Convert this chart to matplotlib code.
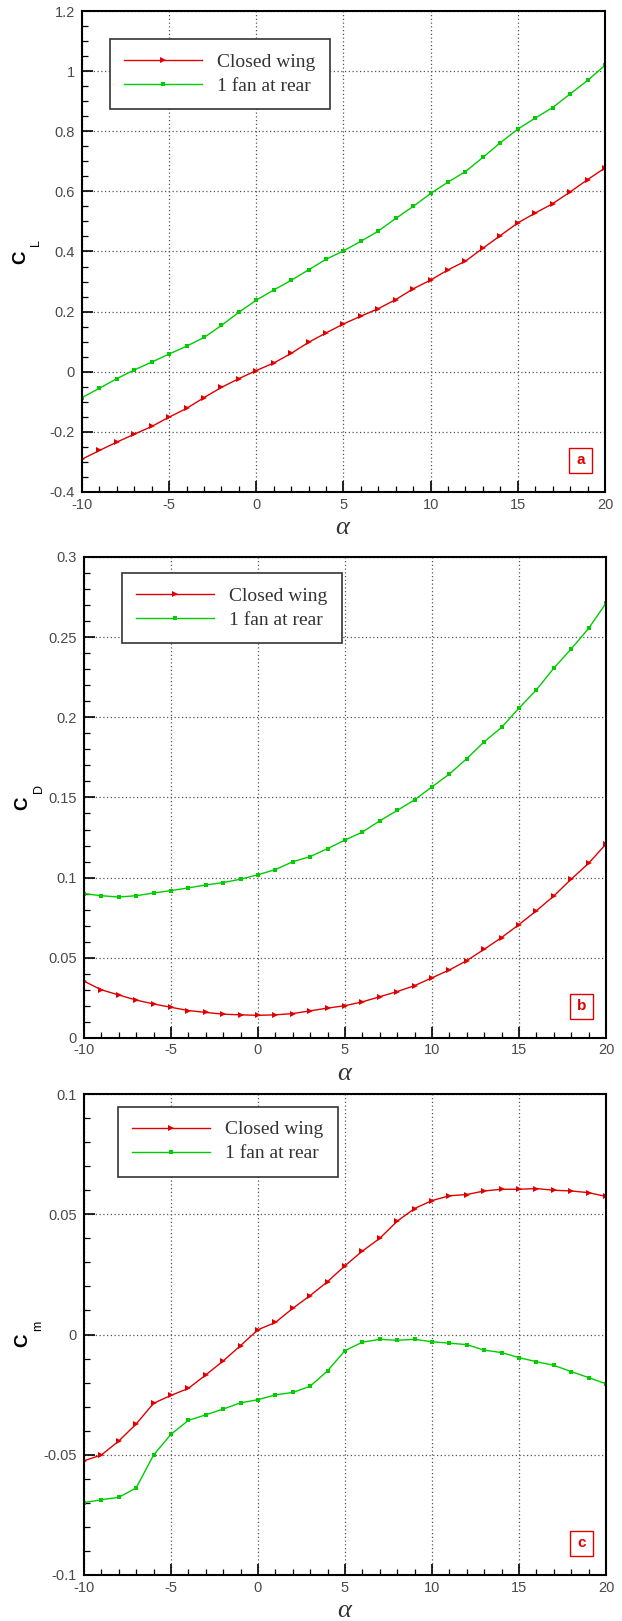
import matplotlib
matplotlib.use("Agg")
import matplotlib.pyplot as plt
from matplotlib.ticker import MultipleLocator, FuncFormatter
from matplotlib.patches import Rectangle

alpha = [-10, -9, -8, -7, -6, -5, -4, -3, -2, -1, 0, 1, 2, 3, 4, 5, 6, 7, 8, 9,
         10, 11, 12, 13, 14, 15, 16, 17, 18, 19, 20]

cl_closed = [-0.291, -0.262, -0.234, -0.208, -0.182, -0.151, -0.122, -0.086, -0.052, -0.023,
             0.004, 0.029, 0.061, 0.098, 0.129, 0.159, 0.185, 0.210, 0.240, 0.276,
             0.305, 0.339, 0.368, 0.411, 0.453, 0.495, 0.528, 0.559, 0.598, 0.639, 0.678]
cl_fan = [-0.086, -0.055, -0.023, 0.006, 0.032, 0.059, 0.085, 0.114, 0.154, 0.198,
          0.238, 0.272, 0.304, 0.339, 0.374, 0.402, 0.434, 0.468, 0.510, 0.550,
          0.593, 0.631, 0.666, 0.713, 0.762, 0.807, 0.844, 0.879, 0.924, 0.969, 1.019]

cd_closed = [0.0354, 0.0300, 0.0268, 0.0236, 0.0212, 0.0191, 0.0171, 0.0159, 0.0148, 0.0144,
             0.0141, 0.0144, 0.0152, 0.0169, 0.0186, 0.0201, 0.0225, 0.0257, 0.0289, 0.0326,
             0.0375, 0.0424, 0.0482, 0.0553, 0.0626, 0.0707, 0.0793, 0.0885, 0.0990, 0.1089, 0.1209]
cd_fan = [0.0900, 0.0887, 0.0879, 0.0887, 0.0904, 0.0919, 0.0936, 0.0954, 0.0969, 0.0990,
          0.1018, 0.1050, 0.1099, 0.1131, 0.1181, 0.1234, 0.1284, 0.1354, 0.1419, 0.1485,
          0.1566, 0.1646, 0.1742, 0.1847, 0.1937, 0.2057, 0.2171, 0.2306, 0.2426, 0.2554, 0.2711]

cm_closed = [-0.0525, -0.0501, -0.0443, -0.0372, -0.0286, -0.0253, -0.0224, -0.0168, -0.0110, -0.0046,
             0.0020, 0.0050, 0.0109, 0.0162, 0.0220, 0.0286, 0.0347, 0.0400, 0.0471, 0.0524,
             0.0557, 0.0577, 0.0582, 0.0597, 0.0604, 0.0604, 0.0607, 0.0600, 0.0597, 0.0590, 0.0574]
cm_fan = [-0.0699, -0.0687, -0.0677, -0.0638, -0.0501, -0.0415, -0.0357, -0.0334, -0.0310, -0.0284,
          -0.0271, -0.0251, -0.0241, -0.0215, -0.0151, -0.0067, -0.0032, -0.0020, -0.0024, -0.0020,
          -0.0030, -0.0036, -0.0042, -0.0065, -0.0075, -0.0096, -0.0113, -0.0128, -0.0154, -0.0179, -0.0205]

series_labels = ["Closed wing", "1 fan at rear"]
panel_letters = ["a", "b", "c"]
ylabel_main = ["C", "C", "C"]
ylabel_sub = ["L", "D", "m"]

plt.rcParams['axes.unicode_minus'] = False
plt.rcParams['mathtext.fontset'] = 'custom'
plt.rcParams['mathtext.it'] = 'Liberation Serif:italic'
plt.rcParams['mathtext.rm'] = 'Liberation Serif'

RED = '#e00000'
GREEN = '#00cc00'
TICKC = '#4a4a4a'

fig = plt.figure(figsize=(6.22, 16.21), dpi=100)

panels = [
    dict(rect=[0.1318, 0.6965, 0.8408, 0.2967], ydata=(cl_closed, cl_fan), ylim=(-0.4, 1.2),
         major=0.2, minor=0.05, leg=(0.0535, 0.9418)),
    dict(rect=[0.1350, 0.3597, 0.8392, 0.2967], ydata=(cd_closed, cd_fan), ylim=(0.0, 0.3),
         major=0.05, minor=0.01, leg=(0.0728, 0.9667)),
    dict(rect=[0.1350, 0.02838, 0.8392, 0.2967], ydata=(cm_closed, cm_fan), ylim=(-0.1, 0.1),
         major=0.05, minor=0.01, leg=(0.0651, 0.974)),
]

fmt = FuncFormatter(lambda v, p: ('%g' % round(v, 6)) if abs(v) > 1e-9 else '0')

for i, p in enumerate(panels):
    ax = fig.add_axes(p['rect'])
    yc, yf = p['ydata']
    ax.plot(alpha, yc, color=RED, lw=1.0, marker='>', ms=4, mew=0, label=series_labels[0])
    ax.plot(alpha, yf, color=GREEN, lw=1.0, marker='s', ms=3, mew=0, label=series_labels[1])
    ax.set_xlim(-10, 20)
    ax.set_ylim(*p['ylim'])
    ax.xaxis.set_major_locator(MultipleLocator(5))
    ax.xaxis.set_minor_locator(MultipleLocator(1))
    ax.yaxis.set_major_locator(MultipleLocator(p['major']))
    ax.yaxis.set_minor_locator(MultipleLocator(p['minor']))
    ax.xaxis.set_major_formatter(fmt)
    ax.yaxis.set_major_formatter(fmt)
    ax.tick_params(which='both', direction='in', top=False, right=False, colors='black',
                   labelcolor=TICKC, labelsize=10.5)
    ax.tick_params(which='major', length=8, width=1.2)
    ax.tick_params(which='minor', length=4, width=0.9)
    ax.tick_params(axis='y', pad=5)
    ax.tick_params(axis='x', pad=4)
    for lab in ax.get_xticklabels() + ax.get_yticklabels():
        lab.set_fontfamily('Liberation Sans')
    for s in ax.spines.values():
        s.set_linewidth(1.5)
        s.set_color('black')
    ax.grid(True, which='major', linestyle=(0, (1, 2)), color='#555555', linewidth=0.9)
    ax.set_axisbelow(True)

    ax.set_xlabel(r'$\alpha$', fontsize=19, color='#333333')
    ax.xaxis.set_label_coords(0.5, -0.046)

    # y label: bold C with a dropped subscript
    ax.text(-0.117, 0.4875, ylabel_main[i], transform=ax.transAxes, rotation=90,
            ha='center', va='center', fontsize=13.5, fontweight='bold',
            family='Liberation Sans', color='black')
    ax.text(-0.087, 0.519, ylabel_sub[i], transform=ax.transAxes, rotation=90,
            ha='center', va='center', fontsize=9, family='Liberation Sans', color='black')

    leg = ax.legend(loc='upper left', bbox_to_anchor=p['leg'], borderaxespad=0,
                    prop={'family': 'Liberation Serif', 'size': 14}, labelcolor='#333333',
                    handlelength=4.0, handletextpad=0.8, borderpad=0.73, labelspacing=0.33,
                    fancybox=False, framealpha=1, edgecolor='#333333')
    leg.get_frame().set_linewidth(1.2)

    w, h = 0.044, 0.052
    x1, y0 = 0.975, 0.0395
    ax.add_patch(Rectangle((x1 - w, y0), w, h, transform=ax.transAxes, fill=False,
                           edgecolor=RED, lw=1.0, zorder=5))
    ax.text(x1 - w / 2, y0 + h / 2, panel_letters[i], transform=ax.transAxes, ha='center',
            va='center', color=RED, fontsize=11, fontweight='bold', family='Liberation Sans')

fig.savefig('out.png', dpi=100)
